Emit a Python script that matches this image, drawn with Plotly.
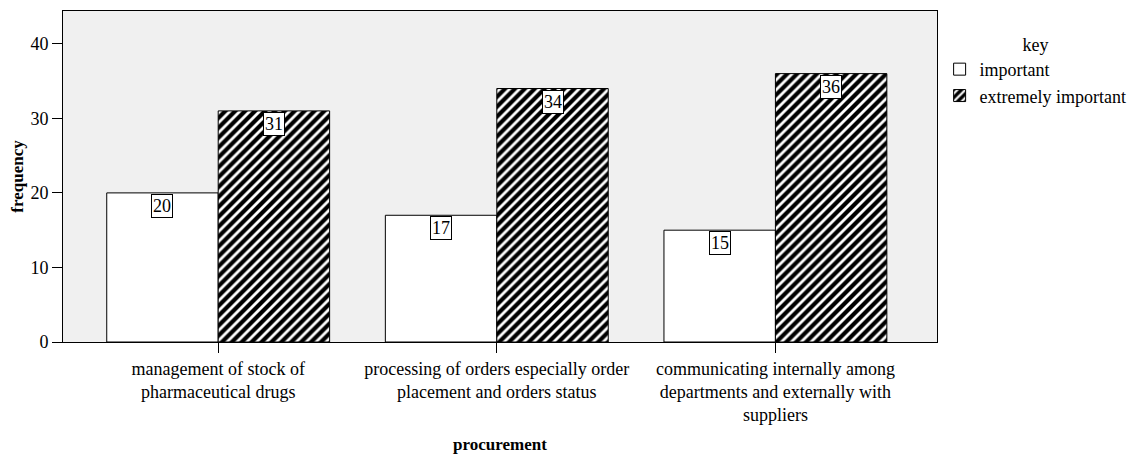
import plotly.graph_objects as go

categories = [
    "management of stock of<br>pharmaceutical drugs",
    "processing of orders especially order<br>placement and orders status",
    "communicating internally among<br>departments and externally with<br>suppliers",
]
important = [20, 17, 15]
extremely_important = [31, 34, 36]
series_names = ["important", "extremely important"]
y_ticks = [0, 10, 20, 30, 40]

FONT = "Liberation Serif"

fig = go.Figure()
fig.add_trace(go.Bar(
    x=list(range(len(categories))), y=important, name=series_names[0],
    marker=dict(color="white", line=dict(color="black", width=1)),
))
fig.add_trace(go.Bar(
    x=list(range(len(categories))), y=extremely_important, name=series_names[1],
    marker=dict(color="black", line=dict(color="black", width=1),
                pattern=dict(shape="/", bgcolor="black", fgcolor="white", fgopacity=1,
                             size=7, solidity=0.4, fillmode="replace")),
))

annotations = []
for i, (a, b) in enumerate(zip(important, extremely_important)):
    for off, v in ((-0.2, a), (0.2, b)):
        annotations.append(dict(
            x=i + off, y=v, xref="x", yref="y", text=str(v), showarrow=False,
            yanchor="top", yshift=-1, bgcolor="white", bordercolor="black",
            borderwidth=1, borderpad=1, font=dict(family=FONT, size=18, color="black"),
        ))

fig.update_layout(
    width=1133, height=454,
    margin=dict(l=63, r=196, t=11, b=112, autoexpand=False),
    paper_bgcolor="white", plot_bgcolor="#f0f0f0",
    barmode="group", bargap=0.2, bargroupgap=0,
    font=dict(family=FONT, size=18, color="black"),
    annotations=annotations,
    legend=dict(
        x=1.003, y=0.95, xanchor="left", yanchor="top",
        title=dict(text="key", side="top center", font=dict(family=FONT, size=18)),
        font=dict(family=FONT, size=18), tracegroupgap=0,
        bgcolor="rgba(0,0,0,0)",
    ),
    showlegend=True,
)
fig.update_xaxes(
    tickmode="array", tickvals=list(range(len(categories))), ticktext=categories,
    range=[-0.557, 2.58], ticks="outside", ticklen=10, tickcolor="black",
    showline=True, linecolor="black", linewidth=1, mirror=True, showgrid=False,
    automargin=False,
    title=dict(text="<b>procurement</b>", font=dict(family=FONT, size=17), standoff=24),
    tickfont=dict(family=FONT, size=18),
)
fig.update_yaxes(
    range=[0, 44.4], tickvals=y_ticks, ticks="outside", ticklen=10, tickcolor="black",
    showline=True, linecolor="black", linewidth=1, mirror=True, showgrid=False,
    zeroline=False, automargin=False,
    title=dict(text="<b>frequency</b>", font=dict(family=FONT, size=17), standoff=2),
    tickfont=dict(family=FONT, size=18),
)

fig.write_html(
    "out.html",
    config={"displayModeBar": False},
    post_script="document.body.style.margin='0';document.body.style.overflow='hidden';",
)
